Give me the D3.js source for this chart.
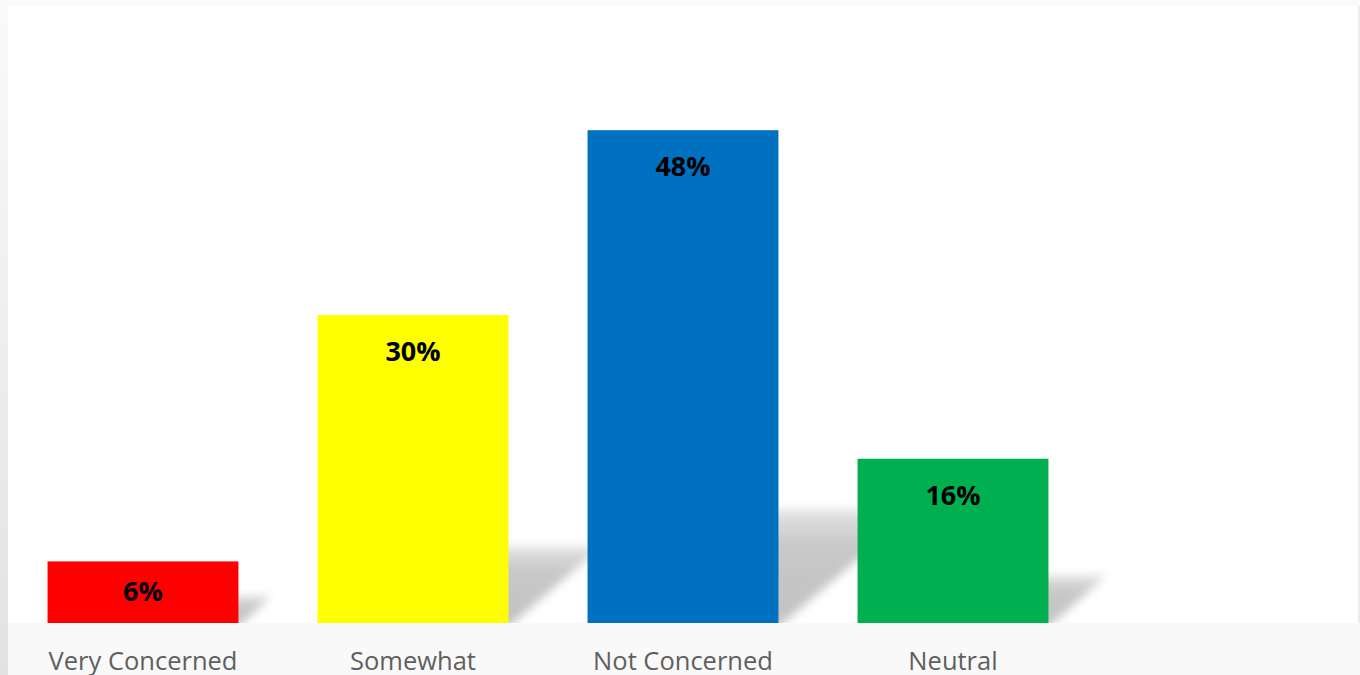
<!DOCTYPE html>
<html>
<head>
<meta charset="utf-8">
<script src="https://cdn.jsdelivr.net/npm/d3@7/dist/d3.min.js"></script>
<style>
  html, body { margin: 0; padding: 0; background: #f9f9f9; }
  svg { display: block; }
</style>
</head>
<body>
<svg width="1360" height="675"></svg>
<script>
var categories = ["Very Concerned", "Somewhat", "Not Concerned", "Neutral", ""];
var values = [6, 30, 48, 16, null];
var colors = ["#ff0000", "#ffff00", "#0070c0", "#00b050", "none"];
var yDomain = [0, 60];

var data = categories.map(function (c, i) {
  return { name: c, value: values[i], color: colors[i] };
}).filter(function (d) { return d.value != null; });

var svg = d3.select("svg");
var defs = svg.append("defs");

var side = defs.append("linearGradient").attr("id", "side")
  .attr("x1", 0).attr("y1", 0).attr("x2", 0).attr("y2", 1);
side.append("stop").attr("offset", "0%").attr("stop-color", "#fafafa");
side.append("stop").attr("offset", "100%").attr("stop-color", "#e2e2e2");

// shadow fades a little toward its far (upper) edge
var fade = defs.append("linearGradient").attr("id", "fade")
  .attr("x1", 0).attr("y1", 1).attr("x2", 0).attr("y2", 0);
fade.append("stop").attr("offset", "0%").attr("stop-color", "#c2c2c2");
fade.append("stop").attr("offset", "70%").attr("stop-color", "#c8c8c8");
fade.append("stop").attr("offset", "100%").attr("stop-color", "#e4e4e4");

defs.append("filter").attr("id", "blur")
  .attr("x", "-30%").attr("y", "-40%").attr("width", "160%").attr("height", "180%")
  .append("feGaussianBlur").attr("stdDeviation", 5);

// page frame
svg.append("rect").attr("width", 1360).attr("height", 675).attr("fill", "#f9f9f9");
svg.append("rect").attr("x", 0).attr("y", 0).attr("width", 8).attr("height", 675).attr("fill", "url(#side)");
svg.append("rect").attr("x", 8).attr("y", 0).attr("width", 1352).attr("height", 6).attr("fill", "#fafafa");

var plotLeft = 8, plotRight = 1358, plotTop = 7, plotBottom = 623;
svg.append("rect").attr("x", plotLeft).attr("y", 6)
  .attr("width", plotRight - plotLeft).attr("height", plotBottom - 6)
  .attr("fill", "#ffffff");
svg.append("rect").attr("x", plotRight).attr("y", 6).attr("width", 2).attr("height", plotBottom - 6)
  .attr("fill", "#ececec");

var x = d3.scaleBand()
  .domain(categories)
  .range([plotLeft, plotRight])
  .paddingInner(0.293)
  .paddingOuter(0.1465);

var y = d3.scaleLinear().domain(yDomain).range([plotBottom, plotTop]);

var clip = defs.append("clipPath").attr("id", "plot");
clip.append("rect").attr("x", plotLeft).attr("y", 6)
  .attr("width", plotRight - plotLeft).attr("height", plotBottom - 6);

// shadows
var shadowG = svg.append("g").attr("clip-path", "url(#plot)");
shadowG.selectAll("path")
  .data(data)
  .enter()
  .append("path")
  .attr("fill", "url(#fade)")
  .attr("filter", "url(#blur)")
  .attr("d", function (d) {
    var h = y(0) - y(d.value);
    var sh = 0.2 * h + 15;
    var k = 1.22 * sh;
    var x0 = x(d.name), x1 = x0 + x.bandwidth();
    return "M" + x0 + "," + (plotBottom + 4) + "L" + x1 + "," + (plotBottom + 4) +
      "L" + (x1 + k) + "," + (plotBottom - sh) + "L" + (x0 + k) + "," + (plotBottom - sh) + "Z";
  });

// bars
svg.append("g").selectAll("rect")
  .data(data)
  .enter()
  .append("rect")
  .attr("x", function (d) { return x(d.name); })
  .attr("y", function (d) { return y(d.value); })
  .attr("width", x.bandwidth())
  .attr("height", function (d) { return y(0) - y(d.value); })
  .attr("fill", function (d) { return d.color; });

// value labels
svg.append("g").selectAll("text")
  .data(data)
  .enter()
  .append("text")
  .attr("x", function (d) { return x(d.name) + x.bandwidth() / 2; })
  .attr("y", function (d) {
    return Math.min(y(d.value) + 46, (y(d.value) + y(0)) / 2 + 9);
  })
  .attr("text-anchor", "middle")
  .style("font-family", "'Open Sans', sans-serif")
  .style("font-weight", "bold")
  .style("font-size", "27px")
  .style("fill", "#000")
  .text(function (d) { return d.value + "%"; });

// category labels
var xAxis = svg.append("g")
  .attr("transform", "translate(0," + plotBottom + ")")
  .call(d3.axisBottom(x).tickSize(0).tickPadding(0));
xAxis.select(".domain").remove();
xAxis.selectAll("text")
  .attr("dy", 0)
  .attr("y", 47)
  .style("font-family", "'Open Sans', sans-serif")
  .style("font-size", "25.5px")
  .style("fill", "#5f5f5f");
</script>
</body>
</html>
